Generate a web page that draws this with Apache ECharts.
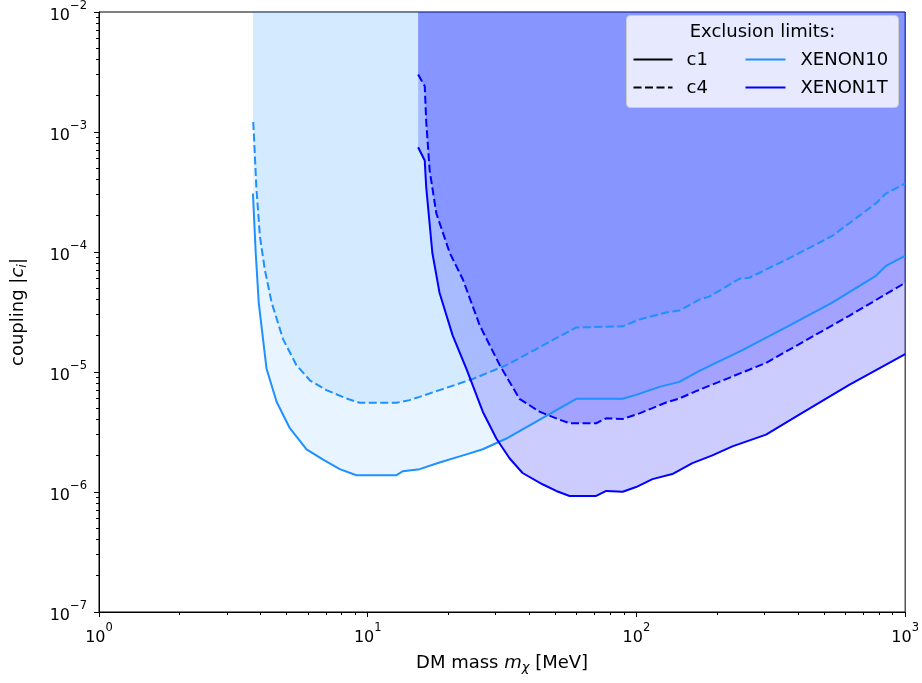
<!DOCTYPE html>
<html>
<head>
<meta charset="utf-8">
<script src="https://cdn.jsdelivr.net/npm/echarts@6/dist/echarts.min.js"></script>
<style>
  html, body { margin: 0; padding: 0; background: #fff; }
  #chart { width: 922px; height: 683px; }
</style>
</head>
<body>
<div id="chart"></div>
<script>
// Exclusion limits on the DM coupling |c_i| versus DM mass (MeV)
const massX10c1 = [3.74, 3.83, 3.93, 4.20, 4.58, 5.13, 5.92, 6.80, 7.87, 9.08, 12.8, 13.5, 15.6, 18.5, 22.0, 23.3, 26.8, 32.8, 59.7, 88.9, 99.7, 121.8, 144.5, 171.5, 247.9, 360, 535, 778, 848, 1000];
const coupX10c1 = [3.07e-4, 9.8e-5, 3.79e-5, 1.07e-5, 5.65e-6, 3.40e-6, 2.27e-6, 1.87e-6, 1.55e-6, 1.38e-6, 1.38e-6, 1.49e-6, 1.55e-6, 1.76e-6, 1.98e-6, 2.06e-6, 2.27e-6, 2.79e-6, 5.98e-6, 5.98e-6, 6.45e-6, 7.52e-6, 8.27e-6, 1.02e-5, 1.52e-5, 2.35e-5, 3.79e-5, 6.33e-5, 7.66e-5, 9.27e-5];

const massX10c4 = [3.75, 3.80, 3.85, 3.97, 4.14, 4.39, 4.84, 5.43, 6.09, 7.02, 8.33, 9.34, 12.8, 14.3, 15.6, 18.5, 24.6, 32.8, 59.7, 88.9, 102.6, 129, 144.5, 171.5, 186.8, 241.5, 263, 360, 535, 778, 848, 1000];
const coupX10c4 = [1.21e-3, 6.58e-4, 3.49e-4, 1.35e-4, 7.14e-5, 3.79e-5, 1.88e-5, 1.14e-5, 8.53e-6, 7.06e-6, 6.02e-6, 5.54e-6, 5.54e-6, 5.83e-6, 6.21e-6, 7.06e-6, 8.75e-6, 1.14e-5, 2.35e-5, 2.40e-5, 2.74e-5, 3.13e-5, 3.25e-5, 4.01e-5, 4.25e-5, 5.98e-5, 6.10e-5, 8.59e-5, 1.36e-4, 2.54e-4, 3.07e-4, 3.72e-4];

const massX1Tc1 = [15.4, 16.3, 16.5, 17.4, 18.5, 20.7, 23.3, 26.8, 30.1, 33.7, 37.7, 44.7, 50.3, 56.4, 70.8, 77.2, 88.9, 99.7, 114.7, 136, 161.5, 191.7, 227.5, 303.6, 403.6, 619, 1000];
const coupX1Tc1 = [7.47e-4, 5.79e-4, 3.51e-4, 9.81e-5, 4.58e-5, 2.02e-5, 1.06e-5, 4.67e-6, 2.79e-6, 1.91e-6, 1.44e-6, 1.16e-6, 1.02e-6, 9.27e-7, 9.27e-7, 1.02e-6, 1.006e-6, 1.10e-6, 1.28e-6, 1.41e-6, 1.74e-6, 2.02e-6, 2.40e-6, 3.01e-6, 4.41e-6, 7.81e-6, 1.41e-5];

const massX1Tc4 = [15.4, 16.3, 16.5, 17.0, 18.0, 20.2, 22.6, 26.1, 31.0, 36.7, 43.6, 51.7, 56.4, 70.8, 77.2, 88.9, 102.6, 129, 144.5, 166.7, 241.5, 303.6, 403.6, 619, 1000];
const coupX1Tc4 = [3.01e-3, 2.41e-3, 1.24e-3, 4.79e-4, 2.10e-4, 9.81e-5, 5.90e-5, 2.45e-5, 1.14e-5, 5.98e-6, 4.67e-6, 4.01e-6, 3.74e-6, 3.74e-6, 4.11e-6, 4.06e-6, 4.52e-6, 5.57e-6, 6.02e-6, 6.93e-6, 9.68e-6, 1.19e-5, 1.71e-5, 2.94e-5, 5.54e-5];

// axis ranges
const xRange = [1, 1000];
const yRange = [1e-7, 1e-2];

// minor tick positions (2..9 within each decade)
const xMinorTicks = [];
for (let e = 0; e < 3; e++) for (let k = 2; k <= 9; k++) xMinorTicks.push(k * Math.pow(10, e));
const yMinorTicks = [];
for (let e = -7; e < -2; e++) for (let k = 2; k <= 9; k++) yMinorTicks.push(k * Math.pow(10, e));

const zip = (xs, ys) => xs.map((x, i) => [x, ys[i]]);

const X10 = '#1e90ff';
const X1T = '#0000ff';
const FONT = 'DejaVu Sans';

function areaSeries(xs, ys, color) {
  return {
    type: 'line', data: zip(xs, ys), showSymbol: false, silent: true,
    lineStyle: { width: 0, opacity: 0 },
    areaStyle: { origin: 'end', color: color, opacity: 1 },
    z: 2
  };
}
function lineSeries(xs, ys, color, dashed) {
  return {
    type: 'line', data: zip(xs, ys), showSymbol: false, silent: true,
    lineStyle: { width: 2, color: color, type: dashed ? [8, 3.5] : 'solid' },
    z: 3
  };
}

const powLabel = v => {
  const e = Math.round(Math.log10(v));
  return '{b|10}{s|' + (e < 0 ? '\u2212' + (-e) : e) + '}';
};
const powRich = {
  b: { fontFamily: FONT, fontSize: 16, color: '#000', lineHeight: 24, verticalAlign: 'bottom' },
  s: { fontFamily: FONT, fontSize: 11.5, color: '#000', lineHeight: 11, verticalAlign: 'top' }
};
const nameRich = {
  n: { fontFamily: FONT, fontSize: 18, color: '#000', lineHeight: 22 },
  it: { fontFamily: FONT, fontSize: 18, fontStyle: 'italic', color: '#000', lineHeight: 22 },
  sub: { fontFamily: FONT, fontSize: 13, fontStyle: 'italic', color: '#000', lineHeight: 13, verticalAlign: 'bottom' }
};

const chart = echarts.init(document.getElementById('chart'), null, { renderer: 'canvas' });

chart.setOption({
  animation: false,
  backgroundColor: '#fff',
  grid: { left: 99, top: 7, right: 16, bottom: 71, show: true, borderColor: '#000', borderWidth: 1, backgroundColor: 'transparent' },
  xAxis: {
    type: 'log', logBase: 10, min: xRange[0], max: xRange[1],
    name: '{n|DM mass }{it|m}{sub|\u03c7}{n| [MeV]}', nameLocation: 'middle', nameGap: 40,
    nameTextStyle: { fontFamily: FONT, fontSize: 18, color: '#000', rich: nameRich },
    axisLine: { show: true, lineStyle: { color: '#000', width: 1 } },
    axisTick: { show: true, inside: false, length: 5, lineStyle: { color: '#000', width: 1 } },
    axisLabel: { formatter: powLabel, rich: powRich, margin: 10 },
    splitLine: { show: false }
  },
  yAxis: {
    type: 'log', logBase: 10, min: yRange[0], max: yRange[1],
    name: '{n|coupling |}{it|c}{sub|i}{n||}', nameLocation: 'middle', nameGap: 70,
    nameTextStyle: { fontFamily: FONT, fontSize: 18, color: '#000', rich: nameRich },
    axisLine: { show: true, lineStyle: { color: '#000', width: 1 } },
    axisTick: { show: true, inside: false, length: 5, lineStyle: { color: '#000', width: 1 } },
    axisLabel: { formatter: powLabel, rich: powRich, margin: 12 },
    splitLine: { show: false }
  },
  series: [
    areaSeries(massX10c1, coupX10c1, 'rgba(30,144,255,0.1)'),
    areaSeries(massX10c4, coupX10c4, 'rgba(30,144,255,0.1)'),
    areaSeries(massX1Tc1, coupX1Tc1, 'rgba(0,0,255,0.2)'),
    areaSeries(massX1Tc4, coupX1Tc4, 'rgba(0,0,255,0.2)'),
    lineSeries(massX10c1, coupX10c1, X10, false),
    lineSeries(massX10c4, coupX10c4, X10, true),
    lineSeries(massX1Tc1, coupX1Tc1, X1T, false),
    lineSeries(massX1Tc4, coupX1Tc4, X1T, true)
  ]
});

// minor ticks placed through the axes' own log scales
const crisp = v => Math.round(v - 0.5) + 0.5;
const minorTicks = [];
xMinorTicks.forEach(v => {
  const p = chart.convertToPixel({ gridIndex: 0 }, [v, yRange[0]]);
  const x = crisp(p[0]);
  minorTicks.push({ type: 'line', silent: true, z: 50, shape: { x1: x, y1: p[1], x2: x, y2: p[1] + 3 }, style: { stroke: '#000', lineWidth: 1 } });
});
yMinorTicks.forEach(v => {
  const p = chart.convertToPixel({ gridIndex: 0 }, [xRange[0], v]);
  const y = crisp(p[1]);
  minorTicks.push({ type: 'line', silent: true, z: 50, shape: { x1: p[0] - 3, y1: y, x2: p[0], y2: y }, style: { stroke: '#000', lineWidth: 1 } });
});

const legendFont = '18px "DejaVu Sans"';
chart.setOption({
  graphic: [
    { type: 'group', id: 'minorTicks', children: minorTicks },
    {
      type: 'group', id: 'legend', left: 626, top: 15, zlevel: 1,
      children: [
        { type: 'rect', z: 100, shape: { x: 0, y: 0, width: 272, height: 92, r: 4 }, style: { fill: 'rgba(255,255,255,0.8)', stroke: '#cccccc', lineWidth: 1 } },
        { type: 'text', z: 101, x: 136, y: 17, style: { text: 'Exclusion limits:', font: legendFont, fill: '#000', align: 'center', verticalAlign: 'middle' } },
        { type: 'line', z: 101, shape: { x1: 7, y1: 44, x2: 46, y2: 44 }, style: { stroke: '#000', lineWidth: 2 } },
        { type: 'line', z: 101, shape: { x1: 7, y1: 72, x2: 46, y2: 72 }, style: { stroke: '#000', lineWidth: 2, lineDash: [8, 3.5] } },
        { type: 'text', z: 101, x: 60, y: 45, style: { text: 'c1', font: legendFont, fill: '#000', verticalAlign: 'middle' } },
        { type: 'text', z: 101, x: 60, y: 73, style: { text: 'c4', font: legendFont, fill: '#000', verticalAlign: 'middle' } },
        { type: 'line', z: 101, shape: { x1: 119, y1: 44, x2: 159, y2: 44 }, style: { stroke: X10, lineWidth: 2 } },
        { type: 'line', z: 101, shape: { x1: 119, y1: 72, x2: 159, y2: 72 }, style: { stroke: X1T, lineWidth: 2 } },
        { type: 'text', z: 101, x: 174, y: 45, style: { text: 'XENON10', font: legendFont, fill: '#000', verticalAlign: 'middle' } },
        { type: 'text', z: 101, x: 174, y: 73, style: { text: 'XENON1T', font: legendFont, fill: '#000', verticalAlign: 'middle' } }
      ]
    }
  ]
});
</script>
</body>
</html>
